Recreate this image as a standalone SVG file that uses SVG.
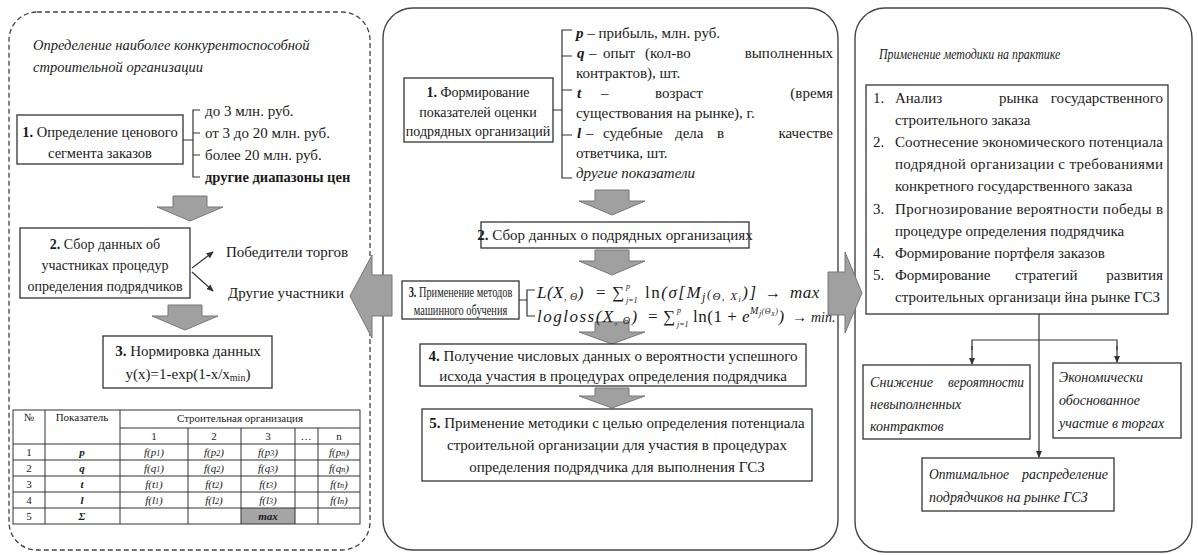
<svg xmlns="http://www.w3.org/2000/svg" width="1198" height="555" viewBox="0 0 1198 555">
<style>
.t{font-family:"Liberation Serif","DejaVu Serif",serif;font-size:15px;fill:#1a1a1a}
.s{font-size:11px}
.k{font-size:14px}
.it{font-style:italic}
.up{font-style:normal}
.b{font-weight:bold}
.m{text-anchor:middle}
.e{text-anchor:end}
.box{fill:#fff;stroke:#333;stroke-width:1.3}
.ln{stroke:#333;stroke-width:1.2;fill:none}
.blk{fill:#a0a0a0;stroke:#777;stroke-width:1}
.pan{fill:#fff;stroke:#444;stroke-width:1.4}
</style>
<defs>
<marker id="ah" viewBox="0 0 8 8" refX="7" refY="4" markerWidth="6" markerHeight="6" orient="auto"><path d="M0,0.5 L8,4 L0,7.5 Z" fill="#333"/></marker>
</defs>
<rect width="1198" height="555" fill="#fff"/>
<g id="panel-left"><rect x="9" y="12" width="361" height="538" rx="28" fill="#fff" stroke="#444" stroke-width="1.3" stroke-dasharray="5,3"/>
<text class="t it" x="33" y="50" style="font-size:14.5px">Определение наиболее конкурентоспособной</text>
<text class="t it" x="33" y="72" style="font-size:14.5px">строительной организации</text></g>
<g id="panel-mid"><rect class="pan" x="383" y="8" width="455" height="542" rx="30"/></g>
<g id="panel-right"><rect class="pan" x="855" y="8" width="337" height="544" rx="30"/>
<text class="t it" transform="translate(879,59) scale(0.85,1)" x="0" y="0" style="font-size:14px">Применение методики на практике</text></g>

<g id="connectors">
<path class="blk" d="M173,196 H207 V207 H223 L190,221 L157,207 H173 Z"/>
<path class="blk" d="M168,305 H202 V316 H218 L185,330 L152,316 H168 Z"/>
<path class="blk" d="M595,190 H629 V201 H645 L612,215 L579,201 H595 Z"/>
<path class="blk" d="M595,250 H629 V261 H645 L612,275 L579,261 H595 Z"/>
<path class="blk" d="M595,322 H629 V332 H645 L612,344 L579,332 H595 Z"/>
<path class="blk" d="M595,388 H629 V396 H645 L612,408 L579,396 H595 Z"/>
<path class="blk" d="M392,275 H372 V255 L350,296 L372,338 V316 H392 Z"/>
<path class="blk" d="M828,272 H845 V252 L862,293 L845,333 V315 H828 Z"/>
<path class="ln" d="M183,140 H193 M200,110 H193 V177 H200 M193,133 H200 M193,155 H200"/>
<path class="ln" d="M553,110 H562 M572,30 H562 V178 H572 M562,56 H572 M562,90 H572 M562,135 H572"/>
<path class="ln" d="M519,300 H527 M535,290 H527 V316 H535"/>
<path class="ln" d="M192,268 L213,252" marker-end="url(#ah)"/>
<path class="ln" d="M192,272 L213,291" marker-end="url(#ah)"/>
<path class="ln" d="M1039,314 V457" marker-end="url(#ah)"/>
<path class="ln" d="M972,350 V340 H1117 V350"/>
<path class="ln" d="M972,346 V364" marker-end="url(#ah)"/>
<path class="ln" d="M1117,346 V362" marker-end="url(#ah)"/>
</g>

<g id="l-box1"><rect class="box" x="17" y="115" width="166" height="49"/>
<text class="t m" x="100" y="137" style="font-size:14.5px"><tspan class="b">1.</tspan> Определение ценового</text>
<text class="t m" x="100" y="158" style="font-size:14.5px">сегмента заказов</text></g>
<g id="l-items">
<text class="t" x="205" y="116">до 3 млн. руб.</text>
<text class="t" x="205" y="138">от 3 до 20 млн. руб.</text>
<text class="t" x="205" y="160">более 20 млн. руб.</text>
<text class="t b" x="205" y="182" style="font-size:14.5px">другие диапазоны цен</text></g>
<g id="l-box2"><rect class="box" x="20" y="228" width="170" height="70"/>
<text class="t m k" x="105" y="249"><tspan class="b">2.</tspan> Сбор данных об</text>
<text class="t m k" x="105" y="270">участниках процедур</text>
<text class="t m k" x="105" y="291">определения подрядчиков</text></g>
<g id="l-winners"><text class="t" x="226" y="257">Победители торгов</text></g>
<g id="l-others"><text class="t" x="228" y="298">Другие участники</text></g>
<g id="l-box3"><rect class="box" x="103" y="336" width="169" height="52"/>
<text class="t m" x="188" y="356"><tspan class="b">3.</tspan> Нормировка данных</text>
<text class="t m" x="188" y="379">y(x)=1-exp(1-x/x<tspan font-size="10" dy="2">min</tspan><tspan dy="-2">)</tspan></text></g>
<g id="l-table">
<rect x="241" y="508" width="54" height="16" fill="#a6a6a6"/>
<rect x="13" y="410" width="347" height="114" fill="none" stroke="#333" stroke-width="1"/>
<path d="M120,428 H360 M13,444 H360 M13,460 H360 M13,476 H360 M13,492 H360 M13,508 H360 M45,410 V524 M120,410 V524 M188,428 V524 M241,428 V524 M295,428 V524 M318,428 V524" stroke="#333" stroke-width="1" fill="none"/>
<text class="t s m" x="29" y="421">№</text>
<text class="t s m" x="82" y="421">Показатель</text>
<text class="t s m" x="240" y="422">Строительная организация</text>
<text class="t s m" x="154" y="440">1</text><text class="t s m" x="214" y="440">2</text><text class="t s m" x="268" y="440">3</text><text class="t s m" x="306" y="440">…</text><text class="t s m" x="339" y="440">n</text>
<text class="t s m" x="29" y="456">1</text><text class="t s m" x="29" y="472">2</text><text class="t s m" x="29" y="488">3</text><text class="t s m" x="29" y="504">4</text><text class="t s m" x="29" y="520">5</text>
<text class="t s m it b" x="82" y="456">p</text><text class="t s m it b" x="82" y="472">q</text><text class="t s m it b" x="82" y="488">t</text><text class="t s m it b" x="82" y="504">l</text><text class="t s m it b" x="82" y="520">Σ</text>
<text class="t s m it" x="154" y="456">f(p<tspan font-size="8">1</tspan>)</text><text class="t s m it" x="214" y="456">f(p<tspan font-size="8">2</tspan>)</text><text class="t s m it" x="268" y="456">f(p<tspan font-size="8">3</tspan>)</text><text class="t s m it" x="339" y="456">f(p<tspan font-size="8">n</tspan>)</text>
<text class="t s m it" x="154" y="472">f(q<tspan font-size="8">1</tspan>)</text><text class="t s m it" x="214" y="472">f(q<tspan font-size="8">2</tspan>)</text><text class="t s m it" x="268" y="472">f(q<tspan font-size="8">3</tspan>)</text><text class="t s m it" x="339" y="472">f(q<tspan font-size="8">n</tspan>)</text>
<text class="t s m it" x="154" y="488">f(t<tspan font-size="8">1</tspan>)</text><text class="t s m it" x="214" y="488">f(t<tspan font-size="8">2</tspan>)</text><text class="t s m it" x="268" y="488">f(t<tspan font-size="8">3</tspan>)</text><text class="t s m it" x="339" y="488">f(t<tspan font-size="8">n</tspan>)</text>
<text class="t s m it" x="154" y="504">f(l<tspan font-size="8">1</tspan>)</text><text class="t s m it" x="214" y="504">f(l<tspan font-size="8">2</tspan>)</text><text class="t s m it" x="268" y="504">f(l<tspan font-size="8">3</tspan>)</text><text class="t s m it" x="339" y="504">f(l<tspan font-size="8">n</tspan>)</text>
<text class="t s m it b" x="268" y="520">max</text>
</g>

<g id="m-box1"><rect class="box" x="404" y="78" width="149" height="64"/>
<text class="t m k" x="478" y="97"><tspan class="b">1.</tspan> Формирование</text>
<text class="t m k" x="478" y="117">показателей оценки</text>
<text class="t m k" x="478" y="136">подрядных организаций</text></g>
<g id="m-items">
<text class="t" x="576" y="38"><tspan class="b it">p</tspan> – прибыль, млн. руб.</text>
<text class="t b it" x="577" y="58">q</text><text class="t" x="589" y="58">–</text><text class="t" x="603" y="58">опыт</text><text class="t" x="645" y="58">(кол-во</text><text class="t e" x="833" y="58">выполненных</text>
<text class="t" x="576" y="78">контрактов), шт.</text>
<text class="t b it" x="577" y="98">t</text><text class="t" x="601" y="98">–</text><text class="t" x="655" y="98">возраст</text><text class="t e" x="833" y="98">(время</text>
<text class="t" x="576" y="118">существования на рынке), г.</text>
<text class="t b it" x="577" y="138">l</text><text class="t" x="586" y="138">–</text><text class="t" x="603" y="138">судебные</text><text class="t" x="675" y="138">дела</text><text class="t" x="717" y="138">в</text><text class="t e" x="833" y="138">качестве</text>
<text class="t" x="576" y="158">ответчика, шт.</text>
<text class="t it" x="576" y="178">другие показатели</text></g>
<g id="m-box2"><rect class="box" x="481" y="222" width="268" height="26"/>
<text class="t m" x="615" y="240"><tspan class="b">2.</tspan> Сбор данных о подрядных организациях</text></g>
<g id="m-box3"><rect class="box" x="402" y="281" width="117" height="38"/>
<text class="t m" transform="translate(460.5,297) scale(0.69,1)" x="0" y="0"><tspan class="b">3.</tspan> Применение методов</text>
<text class="t m" transform="translate(460.5,315) scale(0.69,1)" x="0" y="0">машинного обучения</text></g>
<g id="m-formulas">
<text class="t it" y="298" style="font-size:17px;letter-spacing:0.5px"><tspan x="537">L(X</tspan><tspan font-size="10" dy="2">, Θ</tspan><tspan dy="-2">)</tspan><tspan x="596" class="up">=</tspan><tspan x="612" class="up">∑</tspan></text>
<text class="t it" x="626" y="289" style="font-size:8px">p</text>
<text class="t it" x="626" y="303" style="font-size:8px">j=1</text>
<text class="t it" y="298" style="font-size:17px;letter-spacing:1.5px"><tspan x="645" class="up">ln</tspan>(σ[M<tspan font-size="12" dy="3">j</tspan><tspan font-size="12" dy="-3">(</tspan><tspan font-size="11" dy="2">Θ, X</tspan><tspan font-size="8" dy="2">i</tspan><tspan dy="-4">)]</tspan></text>
<text class="t" x="765" y="298" style="font-size:16px">→</text>
<text class="t it" x="790" y="298" style="font-size:17px;letter-spacing:0.5px">max</text>
<text class="t it" y="322" style="font-size:17px;letter-spacing:1.5px"><tspan x="537">logloss(X</tspan><tspan font-size="10" dy="2">, Θ</tspan><tspan dy="-2">)</tspan></text>
<text class="t" x="648" y="322" style="font-size:17px">=</text>
<text class="t" x="663" y="322" style="font-size:17px">∑</text>
<text class="t it" x="677" y="313" style="font-size:8px">p</text>
<text class="t it" x="677" y="327" style="font-size:8px">j=1</text>
<text class="t it" y="322" style="font-size:17px;letter-spacing:0.5px"><tspan x="693" class="up">ln(1 + </tspan>e<tspan font-size="10" dy="-8">M</tspan><tspan font-size="8" dy="2">j</tspan><tspan font-size="8" dy="-2">(Θ</tspan><tspan font-size="6" dy="2">X</tspan><tspan font-size="8" dy="-2">)</tspan><tspan dy="8">)</tspan></text>
<text class="t" x="792" y="322" style="font-size:15px">→</text>
<text class="t it" x="811" y="322" style="font-size:14px">min.</text></g>
<g id="m-box4"><rect class="box" x="420" y="344" width="386" height="42"/>
<text class="t m" x="613" y="361"><tspan class="b">4.</tspan> Получение числовых данных о вероятности успешного</text>
<text class="t m" x="613" y="381">исхода участия в процедурах определения подрядчика</text></g>
<g id="m-box5"><rect class="box" x="422" y="409" width="390" height="72"/>
<text class="t m" x="617" y="428"><tspan class="b">5.</tspan> Применение методики с целью определения потенциала</text>
<text class="t m" x="617" y="450">строительной организации для участия в процедурах</text>
<text class="t m" x="617" y="472">определения подрядчика для выполнения ГСЗ</text></g>

<g id="r-box"><rect class="box" x="866" y="85" width="302" height="229"/>
<text class="t" x="873" y="103">1.</text><text class="t" x="895" y="103">Анализ</text><text class="t" x="999" y="103">рынка</text><text class="t e" x="1163" y="103">государственного</text>
<text class="t" x="895" y="125">строительного заказа</text>
<text class="t" x="873" y="147">2.</text><text class="t" x="895" y="147" textLength="268" lengthAdjust="spacing">Соотнесение экономического потенциала</text>
<text class="t" x="895" y="169" textLength="268" lengthAdjust="spacing">подрядной организации с требованиями</text>
<text class="t" x="895" y="191">конкретного государственного заказа</text>
<text class="t" x="873" y="214">3.</text><text class="t" x="895" y="214" textLength="268" lengthAdjust="spacing">Прогнозирование вероятности победы в</text>
<text class="t" x="895" y="236">процедуре определения подрядчика</text>
<text class="t" x="873" y="258">4.</text><text class="t" x="895" y="258">Формирование портфеля заказов</text>
<text class="t" x="873" y="280">5.</text><text class="t" x="895" y="280">Формирование</text><text class="t" x="1015" y="280">стратегий</text><text class="t e" x="1163" y="280">развития</text>
<text class="t" x="895" y="302">строительных организаци йна рынке ГСЗ</text></g>
<g id="r-out1"><rect class="box" x="863" y="365" width="167" height="74"/>
<text class="t it k" x="870" y="387" textLength="63" lengthAdjust="spacingAndGlyphs">Снижение</text><text class="t it k" x="948" y="387" textLength="76" lengthAdjust="spacingAndGlyphs">вероятности</text>
<text class="t it k" x="870" y="409">невыполненных</text>
<text class="t it k" x="870" y="431">контрактов</text></g>
<g id="r-out2"><rect class="box" x="1053" y="363" width="128" height="75"/>
<text class="t it k" x="1059" y="382">Экономически</text>
<text class="t it k" x="1059" y="405">обоснованное</text>
<text class="t it k" x="1059" y="428">участие в торгах</text></g>
<g id="r-out3"><rect class="box" x="922" y="458" width="192" height="53"/>
<text class="t it k" x="929" y="479" textLength="80" lengthAdjust="spacingAndGlyphs">Оптимальное</text><text class="t it k" x="1022" y="479" textLength="86" lengthAdjust="spacingAndGlyphs">распределение</text>
<text class="t it k" x="929" y="502">подрядчиков на рынке ГСЗ</text></g>
</svg>
